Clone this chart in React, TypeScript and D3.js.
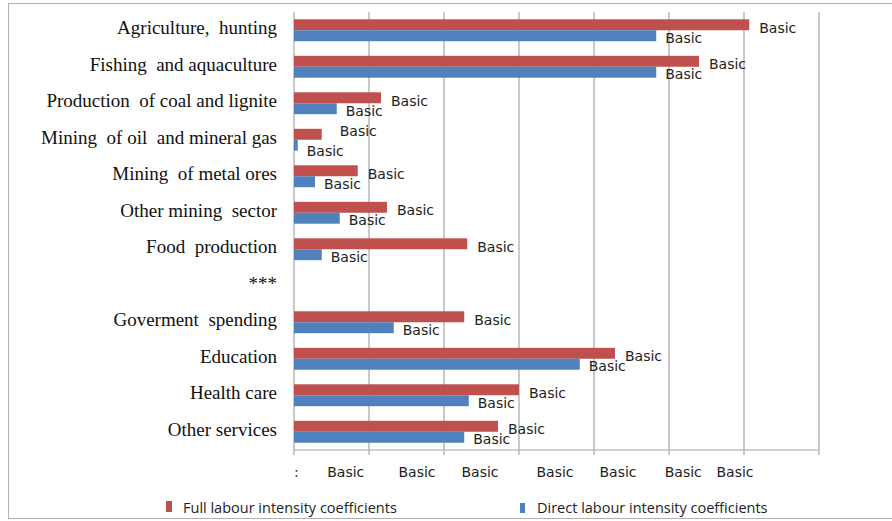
import React from 'react'
import * as d3 from 'd3'

const categories = [
  'Agriculture,  hunting',
  'Fishing  and aquaculture',
  'Production  of coal and lignite',
  'Mining  of oil  and mineral gas',
  'Mining  of metal ores',
  'Other mining  sector',
  'Food  production',
  '***',
  'Goverment  spending',
  'Education',
  'Health care',
  'Other services',
]
const fullValues = [6.07, 5.4, 1.16, 0.37, 0.85, 1.24, 2.31, null, 2.27, 4.28, 3.0, 2.72]
const directValues = [4.83, 4.83, 0.57, 0.05, 0.28, 0.61, 0.37, null, 1.33, 3.81, 2.33, 2.27]
const gridTicks = [0, 1, 2, 3, 4, 5, 6, 7]
const tickLabels = [':', 'Basic', 'Basic', 'Basic', 'Basic', 'Basic', 'Basic', 'Basic']
const tickLabelPos = [0.03, 0.69, 1.64, 2.48, 3.48, 4.32, 5.19, 5.88]
const seriesNames = ['Full labour intensity coefficients', 'Direct labour intensity coefficients']

const RED = '#c0504d'
const BLUE = '#4f81bd'
const GRID = '#a6a6a6'

const App = () => {
  const W = 892
  const H = 521
  const left = 294
  const right = 819
  const top = 12
  const bottom = 450

  const x = d3.scaleLinear().domain([0, 7]).range([left, right])
  const y = d3.scaleBand<string>().domain(categories).range([top, bottom]).paddingInner(0.4).paddingOuter(0.2)
  const bh = y.bandwidth() / 2

  return (
    <svg width={W} height={H} style={{ position: 'absolute', left: 0, top: 0 }}>
      <rect x={8.5} y={3.5} width={W} height={515} fill="#fff" stroke="#b0b0b0" />
      {gridTicks.map((t) => (
        <line key={t} x1={x(t)} x2={x(t)} y1={top} y2={bottom + 5} stroke={GRID} strokeWidth={1.2} />
      ))}
      <line x1={left} x2={right} y1={bottom} y2={bottom} stroke={GRID} strokeWidth={1.2} />
      {categories.map((c, i) => {
        const y0 = y(c)!
        const f = fullValues[i]
        const d = directValues[i]
        // labels that would collide get pushed apart, as Excel does
        const tight = f !== null && d !== null && x(f) - x(d) < 30
        return (
          <g key={c}>
            <text
              x={277}
              y={y0 + bh + 4}
              textAnchor="end"
              fontFamily="'Liberation Serif', serif"
              fontSize={19}
              fill="#111"
              style={{ whiteSpace: 'pre' }}
            >
              {c}
            </text>
            {f !== null && (
              <>
                <rect x={x(0)} y={y0} width={x(f) - x(0)} height={bh} fill={RED} />
                <text
                  x={x(f) + (tight ? 18 : 10)}
                  y={y0 + bh / 2 + (tight ? 2 : 8)}
                  fontFamily="'DejaVu Sans', sans-serif"
                  fontSize={14}
                  fill="#222"
                >
                  Basic
                </text>
              </>
            )}
            {d !== null && (
              <>
                <rect x={x(0)} y={y0 + bh} width={x(d) - x(0)} height={bh} fill={BLUE} />
                <text
                  x={x(d) + 9}
                  y={y0 + bh * 1.5 + (tight ? 11 : 7)}
                  fontFamily="'DejaVu Sans', sans-serif"
                  fontSize={14}
                  fill="#222"
                >
                  Basic
                </text>
              </>
            )}
          </g>
        )
      })}
      {tickLabels.map((l, i) => (
        <text
          key={i}
          x={x(tickLabelPos[i])}
          y={477}
          textAnchor="middle"
          fontFamily="'DejaVu Sans', sans-serif"
          fontSize={14}
          fill="#222"
        >
          {l}
        </text>
      ))}
      <rect x={166} y={501} width={6} height={11} fill={RED} />
      <text x={183} y={513} fontFamily="'Open Sans', sans-serif" fontSize={14.5} fill="#222">
        {seriesNames[0]}
      </text>
      <rect x={520} y={503} width={5} height={10} fill={BLUE} />
      <text x={537} y={513} fontFamily="'Open Sans', sans-serif" fontSize={14.5} fill="#222">
        {seriesNames[1]}
      </text>
    </svg>
  )
}

export default App
